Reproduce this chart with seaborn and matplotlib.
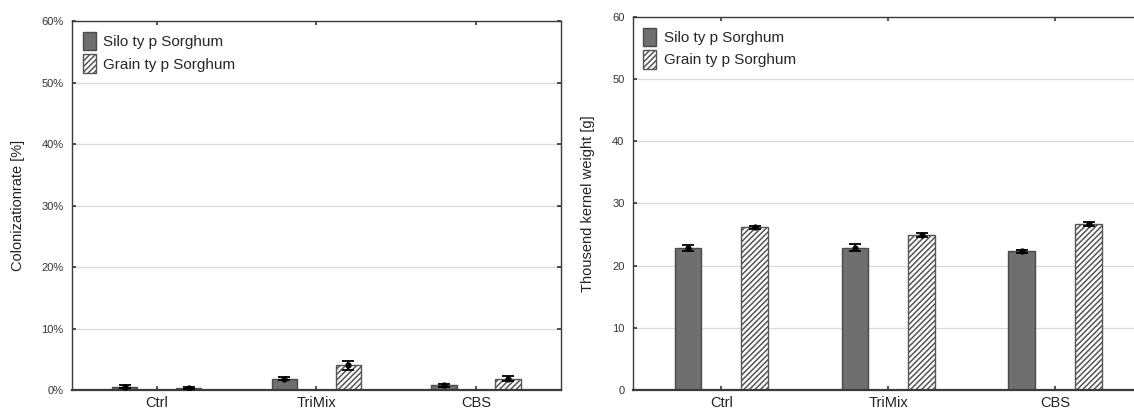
import numpy as np
import pandas as pd
import matplotlib
matplotlib.use("Agg")
import matplotlib.pyplot as plt
from matplotlib.ticker import PercentFormatter
from matplotlib.patches import Patch
import seaborn as sns

# values
treatments = ["Ctrl", "TriMix", "CBS"]
types = ["Silo ty p Sorghum", "Grain ty p Sorghum"]

colon_silo = [0.55, 1.85, 0.75]
colon_grain = [0.3, 4.0, 1.85]
colon_silo_err = [0.3, 0.3, 0.2]
colon_grain_err = [0.15, 0.7, 0.35]

tkw_silo = [22.9, 22.9, 22.3]
tkw_grain = [26.2, 24.9, 26.7]
tkw_silo_err = [0.5, 0.55, 0.25]
tkw_grain_err = [0.25, 0.3, 0.3]

sns.set_theme(style="white")
plt.rcParams['font.family'] = ['Liberation Sans', 'DejaVu Sans']
plt.rcParams['hatch.linewidth'] = 1.1

fig = plt.figure(figsize=(11.34, 4.15), dpi=100)
ax1 = fig.add_axes([0.0635, 0.0602, 0.431, 0.889])
ax2 = fig.add_axes([0.558, 0.0602, 0.4506, 0.899])

silo_col = "#6f6f6f"
edge_col = "#4a4a4a"


def draw(ax, silo, grain, silo_err, grain_err):
    df = pd.DataFrame({
        "Treatment": treatments * 2,
        "Type": [types[0]] * 3 + [types[1]] * 3,
        "Value": silo + grain,
    })
    sns.barplot(data=df, x="Treatment", y="Value", hue="Type", order=treatments,
                hue_order=types, palette=[silo_col, "white"], errorbar=None,
                width=0.8, gap=0.6, ax=ax, legend=False,
                edgecolor=edge_col, linewidth=1.0, saturation=1)
    bars = ax.patches
    for p in bars[3:6]:
        p.set_hatch("//////")
        p.set_edgecolor("#555555")
    errs = silo_err + grain_err
    vals = silo + grain
    for p, v, e in zip(bars[:6], vals, errs):
        cx = p.get_x() + p.get_width() / 2
        ax.errorbar(cx, v, yerr=e, fmt="o", color="black", ms=3.5,
                    capsize=4, elinewidth=1.3, capthick=1.3, zorder=5)
    ax.set_xlim(-0.53, 2.53)
    ax.set_xlabel("")
    ax.grid(axis="y", color="#d9d9d9", linewidth=0.9)
    ax.set_axisbelow(True)
    for s in ax.spines.values():
        s.set_color("#3a3a3a")
        s.set_linewidth(1.0)
    ax.spines["bottom"].set_linewidth(1.6)
    ax.tick_params(axis="x", direction="in", top=True, bottom=True, length=3,
                   labelsize=10.5, colors="#3a3a3a", labelcolor="#222222", pad=4)
    ax.tick_params(axis="y", direction="in", left=True, right=True, length=3,
                   labelsize=8, colors="#3a3a3a", labelcolor="#333333", pad=6)
    handles = [Patch(facecolor=silo_col, edgecolor=edge_col, label=types[0]),
               Patch(facecolor="white", edgecolor="#555555", hatch="//////", label=types[1])]
    ax.legend(handles=handles, loc="upper left", frameon=False, fontsize=11,
              handlelength=0.85, handleheight=1.5, handletextpad=0.5,
              labelspacing=0.25, borderaxespad=0.3)


draw(ax1, colon_silo, colon_grain, colon_silo_err, colon_grain_err)
ax1.set_ylim(0, 60)
ax1.set_yticks(np.arange(0, 61, 10))
ax1.yaxis.set_major_formatter(PercentFormatter(decimals=0))
ax1.set_ylabel("Colonizationrate [%]", fontsize=10.5, color="#222222", labelpad=12)

draw(ax2, tkw_silo, tkw_grain, tkw_silo_err, tkw_grain_err)
ax2.set_ylim(0, 60)
ax2.set_yticks(np.arange(0, 61, 10))
ax2.set_ylabel("Thousend kernel weight [g]", fontsize=10.5, color="#222222", labelpad=12)

fig.savefig("out.png", dpi=100)
